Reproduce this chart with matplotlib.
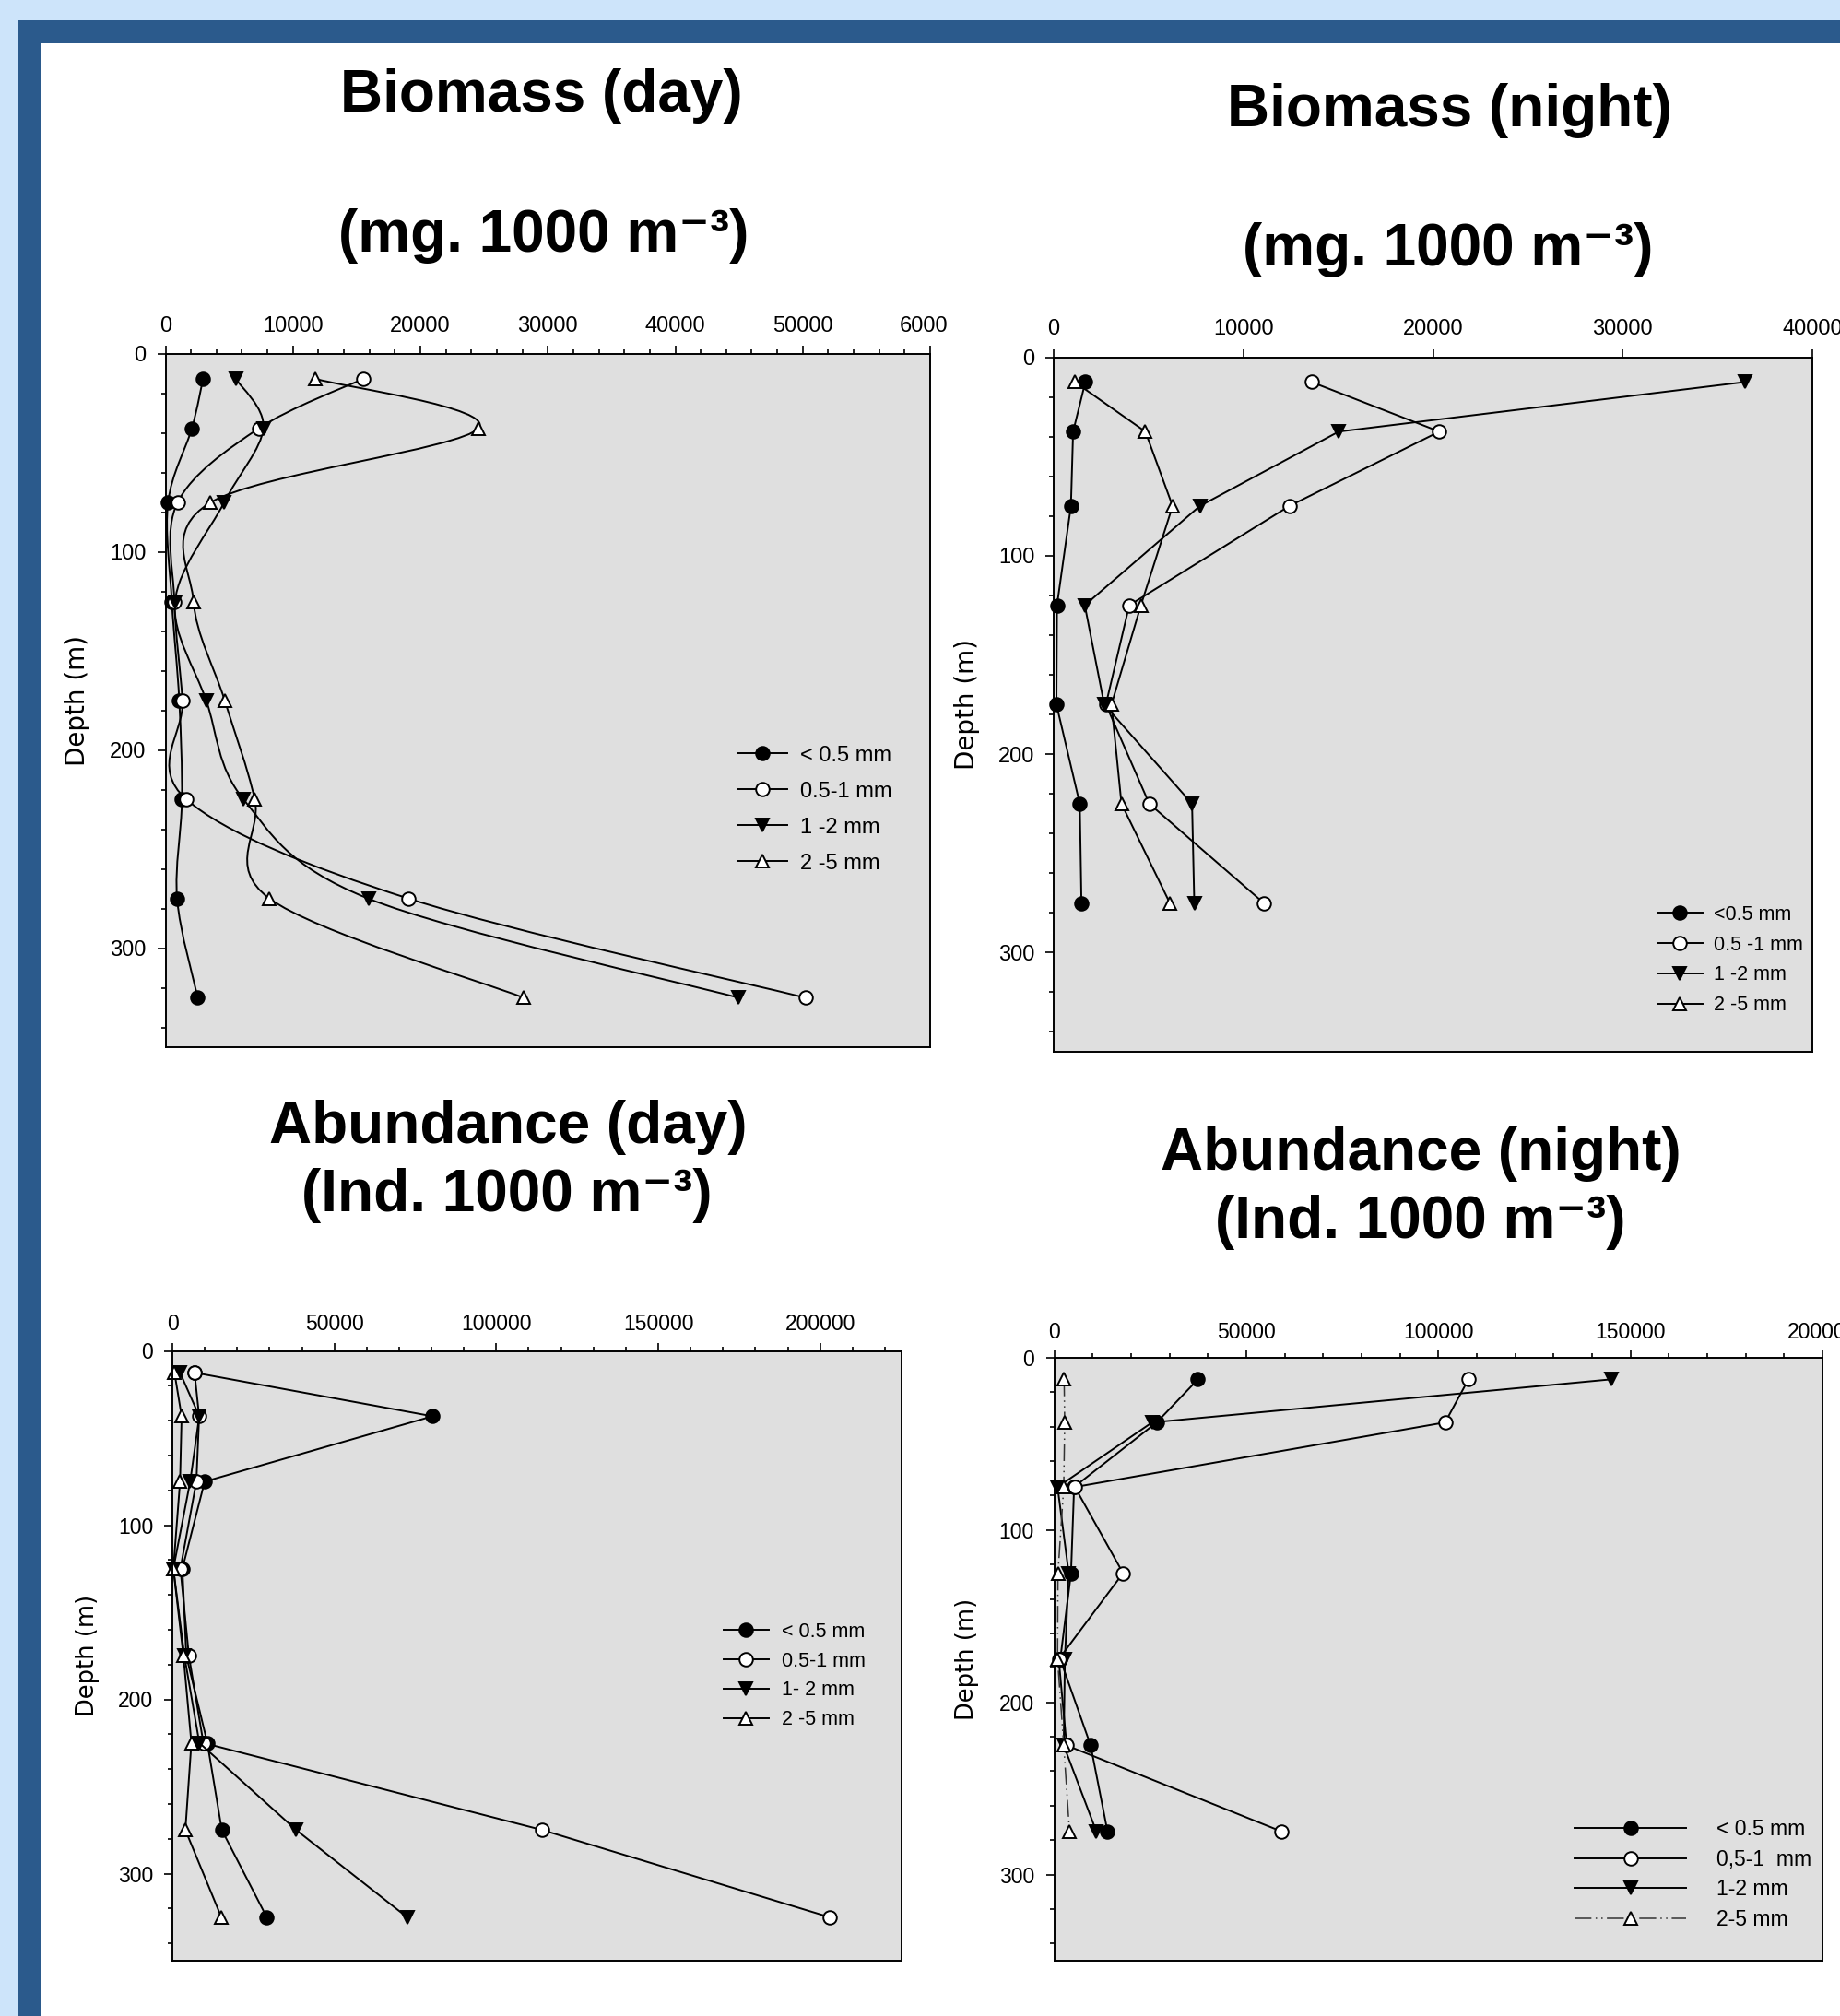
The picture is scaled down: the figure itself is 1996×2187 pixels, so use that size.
import matplotlib
matplotlib.use("Agg")
import matplotlib.pyplot as plt
import numpy as np
from matplotlib.patches import Rectangle, PathPatch
from matplotlib.path import Path
from matplotlib.lines import Line2D
from matplotlib.ticker import MultipleLocator, FuncFormatter
from matplotlib.transforms import Bbox

plt.rcParams['font.family'] = ['Liberation Sans', 'DejaVu Sans']

# ---- data ----
# Biomass (day), mg per 1000 m3
depth_bd = [12.5, 37.5, 75, 125, 175, 225, 275, 325]
bd_lt05 = [2950, 2070, 200, 500, 1080, 1290, 910, 2530]
bd_05_1 = [15520, 7340, 950, 700, 1330, 1660, 19090, 50200]
bd_1_2 = [5520, 7680, 4600, 750, 3200, 6140, 15930, 44940]
bd_2_5 = [11780, 24560, 3530, 2200, 4650, 7010, 8170, 28090]
labels_bd = ['< 0.5 mm', '0.5-1 mm', '1 -2 mm', '2 -5 mm']

# Biomass (night)
depth_bn = [12.5, 37.5, 75, 125, 175, 225, 275]
bn_lt05 = [1670, 1025, 910, 176, 146, 1377, 1465]
bn_05_1 = [13595, 20334, 12423, 3985, 2754, 5040, 11075]
bn_1_2 = [36450, 15030, 7706, 1640, 2666, 7296, 7413]
bn_2_5 = [1113, 4835, 6270, 4600, 3047, 3575, 6124]
labels_bn = ['<0.5 mm', '0.5 -1 mm', '1 -2 mm', '2 -5 mm']

# Abundance (day), ind per 1000 m3
depth_ad = [12.5, 37.5, 75, 125, 175, 225, 275, 325]
ad_lt05 = [6900, 80300, 9960, 3080, 4300, 10800, 15260, 29130]
ad_05_1 = [6830, 8260, 7400, 2470, 5090, 9560, 114230, 202870]
ad_1_2 = [2360, 8300, 5490, 300, 3700, 8320, 38230, 72450]
ad_2_5 = [650, 2850, 2360, 300, 3400, 5860, 4010, 15110]
labels_ad = ['< 0.5 mm', '0.5-1 mm', '1- 2 mm', '2 -5 mm']

# Abundance (night)
depth_an = [12.5, 37.5, 75, 125, 175, 225, 275]
an_lt05 = [37430, 26700, 5200, 4400, 1600, 9500, 13900]
an_05_1 = [107840, 101780, 5400, 17950, 1200, 3250, 59200]
an_1_2 = [144970, 25500, 900, 3800, 2800, 2500, 11000]
an_2_5 = [2600, 2750, 2500, 1000, 900, 2500, 4000]
labels_an = ['< 0.5 mm', '0,5-1  mm', '1-2 mm', '2-5 mm']

W, H = 1996, 2187
fig = plt.figure(figsize=(W / 100, H / 100), dpi=100, facecolor='#cde4fa')

# frame: dark blue band and white page
fig.add_artist(Rectangle((19 / W, 0), 1, 1 - 22 / H, transform=fig.transFigure,
                         facecolor='#2b5a8c', edgecolor='none', zorder=-10))
fig.add_artist(Rectangle((44.5 / W, 0), 1, 1 - 46.5 / H, transform=fig.transFigure,
                         facecolor='white', edgecolor='none', zorder=-9))

styles = [
    dict(marker='o', mfc='black', mec='black'),
    dict(marker='o', mfc='white', mec='black'),
    dict(marker='v', mfc='black', mec='black'),
    dict(marker='^', mfc='white', mec='black'),
]
MS = 10.5
MEW = 1.4


def make_axes(l, t, r, b):
    return fig.add_axes([l / W, 1 - b / H, (r - l) / W, (b - t) / H])


def style_axes(ax, xmax, xmajor, xminor, fs, xpad, ypad, lab_x, lab_fs):
    ax.set_facecolor('#dfdfdf')
    ax.set_xlim(0, xmax)
    ax.set_ylim(350, 0)
    ax.xaxis.tick_top()
    ax.xaxis.set_major_locator(MultipleLocator(xmajor))
    if xminor:
        ax.xaxis.set_minor_locator(MultipleLocator(xminor))
    ax.yaxis.set_major_locator(MultipleLocator(100))
    ax.yaxis.set_minor_locator(MultipleLocator(20))
    ax.xaxis.set_major_formatter(FuncFormatter(lambda v, p: '%d' % v))
    ax.tick_params(which='major', length=6.5, width=1.2, direction='out',
                   labelsize=fs, color='black')
    ax.tick_params(which='minor', length=3.6, width=1.2, direction='out')
    ax.tick_params(axis='x', pad=xpad)
    ax.tick_params(axis='y', pad=ypad)
    for s in ax.spines.values():
        s.set_linewidth(1.4)
    ax.set_ylabel('Depth (m)', family='DejaVu Sans', fontsize=lab_fs, va='center')
    ax.yaxis.set_label_coords(lab_x, 0.5)


def spline_path(xs, ys):
    pts = np.column_stack([xs, ys]).astype(float)
    n = len(pts)
    verts = [pts[0]]
    codes = [Path.MOVETO]
    for i in range(n - 1):
        p0 = pts[i - 1] if i > 0 else pts[i]
        p1 = pts[i]
        p2 = pts[i + 1]
        p3 = pts[i + 2] if i + 2 < n else pts[i + 1]
        verts += [p1 + (p2 - p0) / 6, p2 - (p3 - p1) / 6, p2]
        codes += [Path.CURVE4] * 3
    return Path(verts, codes)


# ---- Biomass (day): spline curves ----
ax1 = make_axes(179.5, 384, 1009, 1136)
style_axes(ax1, 60000, 10000, 2000, 17, 7.5, 8.5, -0.115, 20)
handles = []
for vals, st, lab in zip([bd_lt05, bd_05_1, bd_1_2, bd_2_5], styles, labels_bd):
    ax1.add_patch(PathPatch(spline_path(vals, depth_bd), facecolor='none',
                            edgecolor='black', lw=1.4, zorder=2))
    ax1.plot(vals, depth_bd, ls='none', ms=MS, mew=MEW, zorder=3, clip_on=False, **st)
    handles.append(Line2D([], [], color='black', lw=1.4, ms=MS, mew=MEW, **st))
ax1.legend(handles, labels_bd, loc='center left', bbox_to_anchor=(0.748, 0.343),
           frameon=False, fontsize=17, handlelength=2.3, handletextpad=0.6,
           labelspacing=0.72, borderpad=0, borderaxespad=0)

# ---- Biomass (night) ----
ax2 = make_axes(1143, 387.5, 1966, 1141)
style_axes(ax2, 40000, 10000, None, 17, 7.5, 8.5, -0.114, 20)
for vals, st, lab in zip([bn_lt05, bn_05_1, bn_1_2, bn_2_5], styles, labels_bn):
    ax2.plot(vals, depth_bn, color='black', lw=1.4, ms=MS, mew=MEW, label=lab,
             clip_on=False, **st)
ax2.legend(loc='center left', bbox_to_anchor=(0.796, 0.132), frameon=False,
           fontsize=15.5, handlelength=2.25, handletextpad=0.56, labelspacing=0.55,
           borderpad=0, borderaxespad=0)

# ---- Abundance (day) ----
ax3 = make_axes(187, 1465.5, 977.5, 2127)
style_axes(ax3, 225000, 50000, 10000, 16.5, 5.8, 8.4, -0.116, 18.5)
for vals, st, lab in zip([ad_lt05, ad_05_1, ad_1_2, ad_2_5], styles, labels_ad):
    ax3.plot(vals, depth_ad, color='black', lw=1.4, ms=MS, mew=MEW, label=lab,
             clip_on=False, **st)
ax3.legend(loc='center left', bbox_to_anchor=(0.756, 0.467), frameon=False,
           fontsize=15.5, handlelength=2.3, handletextpad=0.63, labelspacing=0.5,
           borderpad=0, borderaxespad=0)

# ---- Abundance (night) ----
ax4 = make_axes(1143.5, 1473, 1977, 2127)
style_axes(ax4, 200000, 50000, 10000, 16.5, 4.7, 9, -0.113, 18.5)
z_an = [3, 4, 2, 5]
for vals, st, lab, z in zip([an_lt05, an_05_1, an_1_2, an_2_5], styles, labels_an, z_an):
    if lab.startswith('2'):
        ax4.plot(vals, depth_an, color='#333333', lw=1.1, ls=(0, (12, 3, 1, 3, 1, 3)),
                 ms=MS, mew=MEW, label=lab, zorder=z, clip_on=False, **st)
    else:
        ax4.plot(vals, depth_an, color='black', lw=1.4, ms=MS, mew=MEW, label=lab,
                 zorder=z, clip_on=False, **st)
ax4.legend(loc='center left', bbox_to_anchor=(0.677, 0.143), frameon=False,
           fontsize=16.5, handlelength=5.3, handletextpad=1.44, labelspacing=0.42,
           borderpad=0, borderaxespad=0)

# ---- titles ----
def title(x, y, s):
    fig.text(x / W, 1 - y / H, s, ha='center', va='center', fontsize=46,
             fontweight='bold', family=['Liberation Sans', 'DejaVu Sans'])

title(587, 104, 'Biomass (day)')
title(590, 256, '(mg. 1000 m\u207b\u00b3)')
title(1572, 120, 'Biomass (night)')
title(1571, 271, '(mg. 1000 m\u207b\u00b3)')
title(551, 1223, 'Abundance (day)')
title(550, 1297, '(Ind. 1000 m\u207b\u00b3)')
title(1541, 1252, 'Abundance (night)')
title(1541, 1326, '(Ind. 1000 m\u207b\u00b3)')

# the last top label of the first panel is cut off in the original
fig.canvas.draw()
clip = Bbox.from_extents(0, 0, 1027, H)
for lab in ax1.get_xticklabels():
    lab.set_clip_box(clip)
    lab.set_clip_on(True)

fig.savefig('out.png', dpi=100, facecolor=fig.get_facecolor())
